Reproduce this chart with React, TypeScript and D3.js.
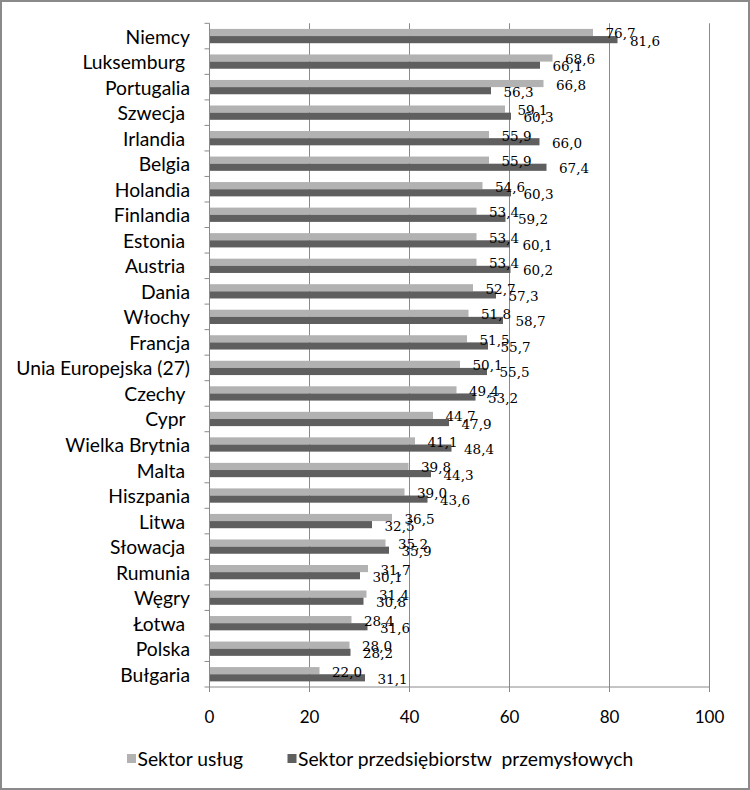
import React from "react";
import * as d3 from "d3";

const categories = [
  "Niemcy", "Luksemburg ", "Portugalia", "Szwecja ", "Irlandia ", "Belgia", "Holandia",
  "Finlandia", "Estonia ", "Austria ", "Dania", "Włochy", "Francja", "Unia Europejska (27)",
  "Czechy ", "Cypr ", "Wielka Brytnia", "Malta ", "Hiszpania", "Litwa ", "Słowacja ",
  "Rumunia", "Węgry", "Łotwa ", "Polska", "Bułgaria",
];
const uslugi = [76.7, 68.6, 66.8, 59.1, 55.9, 55.9, 54.6, 53.4, 53.4, 53.4, 52.7, 51.8, 51.5, 50.1, 49.4, 44.7, 41.1, 39.8, 39.0, 36.5, 35.2, 31.7, 31.4, 28.4, 28.0, 22.0];
const przemysl = [81.6, 66.1, 56.3, 60.3, 66.0, 67.4, 60.3, 59.2, 60.1, 60.2, 57.3, 58.7, 55.7, 55.5, 53.2, 47.9, 48.4, 44.3, 43.6, 32.5, 35.9, 30.1, 30.8, 31.6, 28.2, 31.1];
const seriesNames = ["Sektor usług", "Sektor przedsiębiorstw  przemysłowych"];
const xTicks = [0, 20, 40, 60, 80, 100];

const W = 750, H = 790;
const COLORS = ["#b2b2b2", "#5f5f5f"];
const SANS = "Lato, 'Open Sans', sans-serif";
const SERIF = "'DejaVu Serif', serif";

export default function App() {
  const x = d3.scaleLinear().domain([0, 100]).range([209.5, 709.5]);
  const y = d3.scaleBand<string>().domain(categories).range([23.3, 687]).paddingInner(0.44).paddingOuter(0.22);
  const sub = d3.scaleBand<number>().domain([0, 1]).range([0, y.bandwidth()]).padding(0);
  const step = y.step();
  const top = 23.3, bottom = 687;
  const series = [uslugi, przemysl];
  const fmt = (v: number) => v.toFixed(1).replace(".", ",");

  return (
    <svg width={W} height={H} style={{ position: "absolute", left: 0, top: 0, background: "#fff" }}>
      <rect x={0} y={0} width={W} height={H} fill="#fff" />
      <rect x={1} y={1} width={W - 2} height={H - 2} fill="none" stroke="#8a8a8a" strokeWidth={2} />
      {xTicks.filter((t) => t > 0).map((t) => (
        <line key={"g" + t} x1={x(t)} x2={x(t)} y1={top} y2={bottom} stroke="#8a8a8a" strokeWidth={1} />
      ))}
      {categories.map((c, i) => (
        <g key={c}>
          {series.map((s, k) => (
            <rect key={k} x={x(0)} y={(y(c) as number) + (sub(k) as number)} width={x(s[i]) - x(0)} height={sub.bandwidth()} fill={COLORS[k]} />
          ))}
        </g>
      ))}
      <line x1={x(0)} x2={x(0)} y1={top} y2={bottom} stroke="#8a8a8a" />
      <line x1={x(0) - 5} x2={x(100)} y1={bottom} y2={bottom} stroke="#8a8a8a" />
      {categories.map((c, i) => (
        <line key={"yt" + i} x1={x(0) - 5} x2={x(0)} y1={top + i * step} y2={top + i * step} stroke="#8a8a8a" />
      ))}
      {xTicks.map((t) => (
        <g key={"xt" + t}>
          <line x1={x(t)} x2={x(t)} y1={bottom} y2={bottom + 5} stroke="#8a8a8a" />
          <text x={x(t)} y={716} textAnchor="middle" dominantBaseline="central" fontFamily={SANS} fontSize={17} fill="#000">{t}</text>
        </g>
      ))}
      {categories.map((c) => (
        <text key={"l" + c} x={190} y={(y(c) as number) + y.bandwidth() / 2} textAnchor="end" dominantBaseline="central"
          fontFamily={SANS} fontSize={19.3} fill="#000" style={{ whiteSpace: "pre" }}>{c}</text>
      ))}
      {categories.map((c, i) => (
        <g key={"v" + c}>
          {series.map((s, k) => (
            <text key={k} x={x(s[i]) + 12.5} y={(y(c) as number) + (sub(k) as number) + sub.bandwidth() / 2 + 1}
              dominantBaseline="central" fontFamily={SERIF} fontSize={13.5} fill="#000">{fmt(s[i])}</text>
          ))}
        </g>
      ))}
      {seriesNames.map((n, k) => {
        const lx = k === 0 ? 127 : 287.5;
        return (
          <g key={"lg" + k}>
            <rect x={lx} y={754} width={9} height={9} fill={COLORS[k]} />
            <text x={lx + 10.5} y={758.5} dominantBaseline="central" fontFamily={SANS} fontSize={19.3} fill="#000" style={{ whiteSpace: "pre" }}>{n}</text>
          </g>
        );
      })}
    </svg>
  );
}
